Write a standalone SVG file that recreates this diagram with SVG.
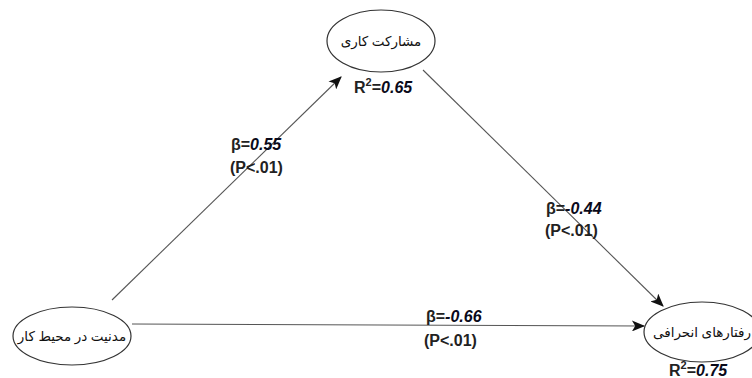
<svg xmlns="http://www.w3.org/2000/svg" width="752" height="378" viewBox="0 0 752 378">
<defs>
<marker id="ah" viewBox="0 0 12 10" refX="11" refY="5" markerWidth="14" markerHeight="11" markerUnits="userSpaceOnUse" orient="auto">
<path d="M0,0 L12,5 L0,10 L3,5 Z" fill="#111"/>
</marker>
<style>
.node ellipse{fill:#fff;stroke:#333;stroke-width:1.2}
.fa{font-family:"Noto Sans","DejaVu Sans",sans-serif;font-size:13.5px;fill:#111;text-anchor:middle}
.lbl{font-family:"Liberation Sans",Arial,sans-serif;font-size:16px;font-weight:bold;fill:#222}
.num{font-style:italic;fill:#0a0a1a}
.conn line{stroke:#555;stroke-width:1.1}
</style>
</defs>
<rect width="752" height="378" fill="#fff"/>
<g id="connectors" class="conn">
<line x1="112" y1="300" x2="341" y2="77" marker-end="url(#ah)"/>
<line x1="423" y1="70" x2="663" y2="306" marker-end="url(#ah)"/>
<line x1="132" y1="324" x2="644" y2="326" marker-end="url(#ah)"/>
</g>
<g id="node-top" class="node">
<ellipse cx="381" cy="41" rx="54" ry="31"/>
<text class="fa" x="381" y="46">مشارکت کاری</text>
<text class="lbl" x="354" y="93">R<tspan font-size="11" dy="-7">2</tspan><tspan dy="7">=</tspan><tspan class="num">0.65</tspan></text>
</g>
<g id="node-left" class="node">
<ellipse cx="72" cy="336" rx="59" ry="29"/>
<text class="fa" x="72" y="341">مدنیت در محیط کار</text>
</g>
<g id="node-right" class="node">
<ellipse cx="702" cy="332" rx="58" ry="30"/>
<text class="fa" x="702" y="337" font-size="13">رفتارهای انحرافی</text>
<text class="lbl" x="669" y="376">R<tspan font-size="11" dy="-7">2</tspan><tspan dy="7">=</tspan><tspan class="num">0.75</tspan></text>
</g>
<g id="labels">
<text class="lbl" x="231" y="150">β=<tspan class="num">0.55</tspan></text>
<text class="lbl" x="230" y="173">(P&lt;.01)</text>
<text class="lbl" x="546" y="214">β=<tspan class="num">-0.44</tspan></text>
<text class="lbl" x="545" y="236">(P&lt;.01)</text>
<text class="lbl" x="426" y="322">β=<tspan class="num">-0.66</tspan></text>
<text class="lbl" x="424" y="346">(P&lt;.01)</text>
</g>
</svg>
